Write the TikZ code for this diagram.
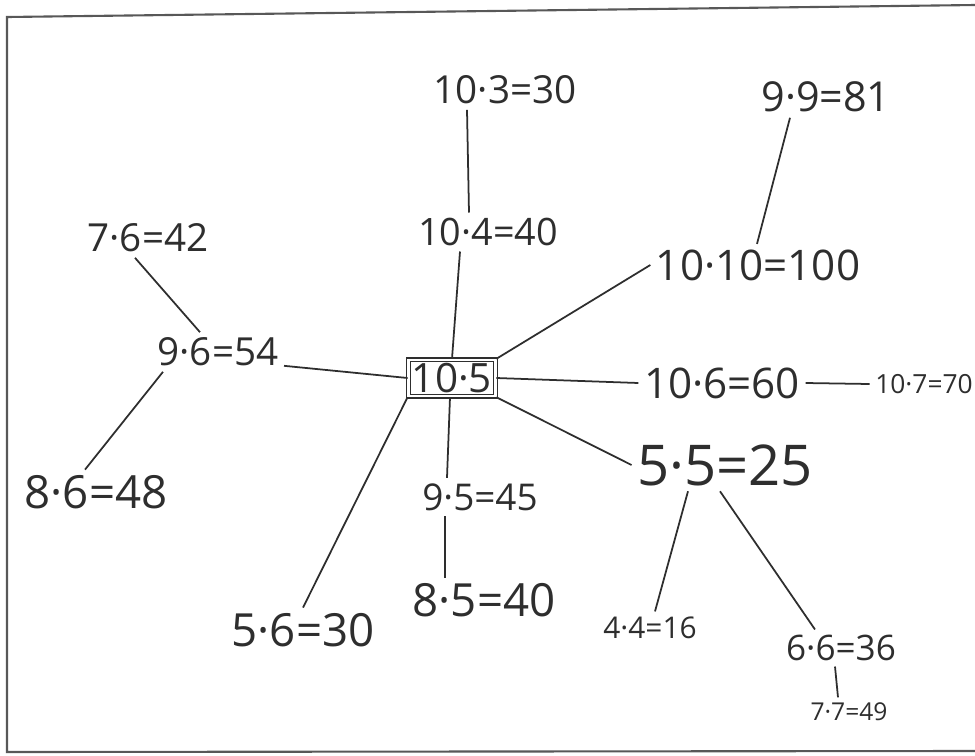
\documentclass[tikz,border=0pt]{standalone}
\usepackage{fontspec}
\setmainfont{Open Sans}
\definecolor{ink}{HTML}{2E2E2E}
\begin{document}
\begin{tikzpicture}[x=0.02cm,y=-0.02cm,
  eq/.style={text=ink,inner sep=3pt,font=\fontsize{#1}{#1}\selectfont},
  link/.style={draw=ink,line width=1pt},
  frame/.style={draw=ink!80,line width=1.2pt},
  center/.style={draw=ink,line width=1pt,double=white,double distance=1.2pt,inner sep=2pt,text=ink,font=\fontsize{23}{23}\selectfont}]
\useasboundingbox (0,0) rectangle (975,755);
\fill[white] (0,0) rectangle (975,755);
\coordinate (fa) at (975,5);
\coordinate (fb) at (7,17);
\coordinate (fc) at (7,752);
\coordinate (fd) at (975,751);
\draw[frame] (fa) -- (fb) -- (fc) -- (fd);

\node[center] (c) at (452,378) {10·5};
\node[eq=22] (a103) at (505,90) {10·3=30};
\node[eq=21.5] (a104) at (488,232) {10·4=40};
\node[eq=23.5] (a99) at (826,97) {9·9=81};
\node[eq=24] (a1010) at (758,265) {10·10=100};
\node[eq=22] (a76) at (148,238) {7·6=42};
\node[eq=22] (a96) at (218,352) {9·6=54};
\node[eq=26] (a86) at (96,492) {8·6=48};
\node[eq=24] (a106) at (722,383) {10·6=60};
\node[eq=15] (a107) at (924,384) {10·7=70};
\node[eq=32] (a55) at (725,465) {5·5=25};
\node[eq=21] (a95) at (480,497) {9·5=45};
\node[eq=26] (a85) at (484,600) {8·5=40};
\node[eq=26] (a56) at (303,630) {5·6=30};
\node[eq=17] (a44) at (650,628) {4·4=16};
\node[eq=20] (a66) at (841,648) {6·6=36};
\node[eq=14] (a77) at (849,712) {7·7=49};

\draw[link] (a103.south -| 467,0) -- (a104.north -| 469,0);
\draw[link] (a104.south -| 460,0) -- (c.north -| 452,0);
\draw[link] (c.north east) -- (a1010.west);
\draw[link] (a99.south -| 790,0) -- (a1010.north -| 757,0);
\draw[link] (a96.base east) -- (c.west);
\draw[link] (a76.south -| 135,0) -- (a96.north -| 200,0);
\draw[link] (a96.south -| 163,0) -- (a86.north -| 85,0);
\draw[link] (c.east) -- (a106.west);
\draw[link] (a106.east) -- (a107.west);
\draw[link] (c.south east) -- (a55.west);
\draw[link] (c.south west) -- (a56.north);
\draw[link] (c.south -| 450,0) -- (a95.north -| 447,0);
\draw[link] (a95.south -| 445,0) -- (a85.north -| 445,0);
\draw[link] (a55.south -| 688,0) -- (a44.north -| 655,0);
\draw[link] (a55.south -| 720,0) -- (a66.north -| 815,0);
\draw[link] (a66.south -| 835,0) -- (a77.north -| 838,0);
\end{tikzpicture}
\end{document}
